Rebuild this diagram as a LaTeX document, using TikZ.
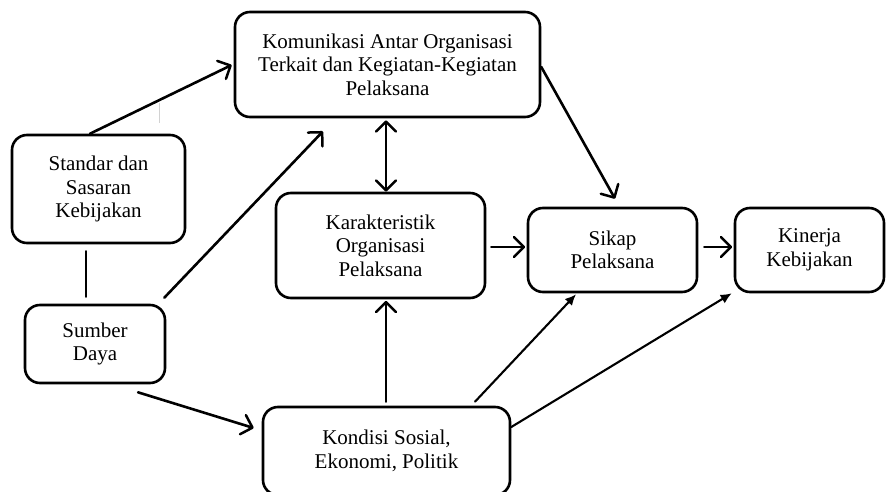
\documentclass[tikz,border=0pt]{standalone}
\usepackage{fontspec}
\setmainfont{Liberation Serif}
\usetikzlibrary{arrows.meta,calc}
\begin{document}
\begin{tikzpicture}[x=1pt,y=-1pt,
  box/.style={draw,line width=2.6pt,rounded corners=15pt,align=center,inner sep=0pt,
    font=\fontsize{21}{23.5}\selectfont},
  conn/.style={line width=2.6pt,line cap=round},
  vtip/.style={-{Straight Barb[length=10pt,width=20pt,line width=2.5pt,round]}},
  vtips/.style={{Straight Barb[length=10pt,width=20pt,line width=2.5pt,round]}-{Straight Barb[length=10pt,width=20pt,line width=2.5pt,round]}},
  ftip/.style={-{Latex[length=11pt,width=10pt]}},
  thin/.style={line width=2.1pt,line cap=round}]
\clip (0,0) rectangle (886,492);
\fill[white] (0,0) rectangle (886,492);

\node[box,minimum width=305pt,minimum height=105pt] (kom) at (387.5,64.5)
  {Komunikasi Antar Organisasi\\Terkait dan Kegiatan-Kegiatan\\Pelaksana};
\node[box,minimum width=173pt,minimum height=108pt] (std) at (98.5,189)
  {Standar dan\\Sasaran\\Kebijakan};
\node[box,minimum width=140pt,minimum height=78pt] (sum) at (95,344)
  {Sumber\\Daya};
\node[box,minimum width=209pt,minimum height=105pt] (kar) at (380.5,245.5)
  {Karakteristik\\Organisasi\\Pelaksana};
\node[box,minimum width=169pt,minimum height=84pt] (sik) at (612.5,250)
  {Sikap\\Pelaksana};
\node[box,minimum width=149pt,minimum height=84pt] (kin) at (809.5,250)
  {Kinerja\\Kebijakan};
\node[box,minimum width=247pt,minimum height=88pt] (kon) at (386.5,451)
  {Kondisi Sosial,\\Ekonomi, Politik};

% faint artifact line
\draw[gray!35,line width=0.8pt] (159,103) -- (159,123);

\draw[conn,vtip] ($(std.north)+(-8.5,0)$) -- ($(kom.west)+(-2,0.5)$);
\draw[conn] ($(std.south)+(-12.5,7)$) -- ($(sum.north)+(-9,-7)$);
\draw[conn,vtip] ($(sum.north east)+(-2,-6)$) -- ($(kom.south)+(-64.5,13)$);
\draw[conn,vtips] ($(kom.south)+(-1.5,2)$) coordinate (kb) -- (kb |- kar.north);
\draw[conn,vtip] ($(kom.east)+(0,2.5)$) -- ($(sik.north)+(2.5,-8)$);
\draw[conn,vtip] ($(kar.east)+(5,1.5)$) coordinate (k1) -- ($(k1 -| sik.west)+(-1.5,0)$);
\draw[conn,vtip] ($(sik.east)+(6,-3)$) coordinate (s1) -- ($(s1 -| kin.west)+(-1.5,0)$);
\draw[conn,vtip] ($(kon.north)+(-0.5,-4)$) coordinate (kn) -- ($(kn |- kar.south)+(0,1.5)$);
\draw[conn,vtip] ($(sum.south)+(43,8)$) -- ($(kon.west)+(-8,-23)$);
\draw[thin,ftip] ($(kon.north)+(88.5,-4)$) -- ($(sik.south)+(-36.5,1)$);
\draw[thin,ftip] ($(kon.east)+(0,-24)$) -- ($(kin.south west)+(-2,0)$);
\end{tikzpicture}
\end{document}
